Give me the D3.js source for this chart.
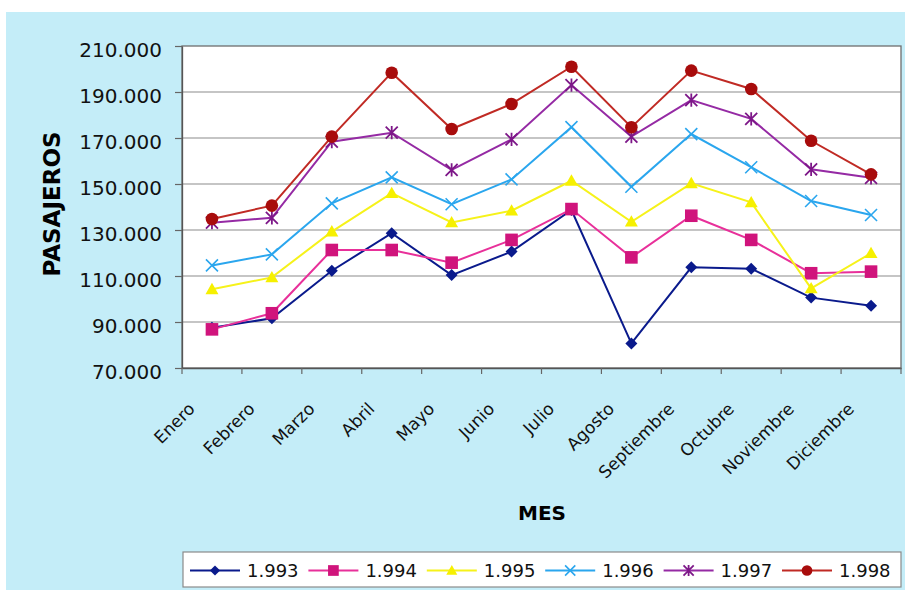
<!DOCTYPE html>
<html>
<head>
<meta charset="utf-8">
<script src="https://cdn.jsdelivr.net/npm/d3@7"></script>
<style>
  html, body { margin: 0; padding: 0; background: #ffffff; }
  svg { display: block; font-family: "DejaVu Sans", Verdana, sans-serif; }
</style>
</head>
<body>
<svg id="chart" width="905" height="590"></svg>
<script>
// ---- data ----
const months = ["Enero","Febrero","Marzo","Abril","Mayo","Junio","Julio","Agosto","Septiembre","Octubre","Noviembre","Diciembre"];
const seriesNames = ["1.993","1.994","1.995","1.996","1.997","1.998"];
const v1993 = [87500, 91600, 112300, 128600, 110400, 120600, 138700, 80700, 113800, 113200, 100600, 97100];
const v1994 = [86800, 93800, 121300, 121300, 115800, 125700, 139100, 118100, 136200, 125700, 111200, 111900];
const v1995 = [104200, 109400, 129300, 146000, 133300, 138400, 151400, 133600, 150300, 142000, 104600, 119900];
const v1996 = [114600, 119400, 141600, 152900, 141200, 152000, 174700, 148800, 171700, 157300, 142600, 136500];
const v1997 = [133200, 135300, 168400, 172300, 156100, 169400, 193000, 170600, 186500, 178300, 156400, 152700];
const v1998 = [134800, 140600, 170600, 198400, 173900, 184800, 201000, 174700, 199300, 191300, 168800, 154200];
const yTicks = [70000, 90000, 110000, 130000, 150000, 170000, 190000, 210000];
const yTitle = "PASAJEROS";
const xTitle = "MES";

(function () {
const seriesValues = [v1993, v1994, v1995, v1996, v1997, v1998];
const styles = [
  {line: "#0a1a8c", fill: "#0a1a8c", marker: "diamond"},
  {line: "#e8309a", fill: "#d0147c", marker: "square"},
  {line: "#f6f21a", fill: "#f6f000", marker: "triangle"},
  {line: "#2aa6ee", fill: "#2aa6ee", marker: "x"},
  {line: "#952aa4", fill: "#7d1788", marker: "star"},
  {line: "#c02a24", fill: "#a80c0c", marker: "circle"}
];

const svg = d3.select("#chart");

// background
svg.append("rect").attr("x", 6).attr("y", 12).attr("width", 899).attr("height", 578).attr("fill", "#c4edf8");

const pLeft = 182, pRight = 901, pTop = 46, pBottom = 368;
const x = d3.scaleBand().domain(months).range([pLeft, pRight]).paddingInner(0).paddingOuter(0);
const y = d3.scaleLinear().domain([70000, 210000]).range([pBottom, pTop]);

// plot area
svg.append("rect").attr("x", pLeft).attr("y", pTop).attr("width", pRight - pLeft).attr("height", pBottom - pTop)
  .attr("fill", "#ffffff").attr("stroke", "#6e6e6e").attr("stroke-width", 1.3);

// gridlines
svg.append("g").selectAll("line").data(yTicks.slice(1, -1)).join("line")
  .attr("x1", pLeft).attr("x2", pRight)
  .attr("y1", d => y(d)).attr("y2", d => y(d))
  .attr("stroke", "#8c8c8c").attr("stroke-width", 1.2);

// y axis
const fmtLocale = d3.formatLocale({decimal: ",", thousands: ".", grouping: [3], currency: ["", ""]});
const fmt = fmtLocale.format(",d");
const yAxis = svg.append("g").attr("transform", `translate(${pLeft},0)`)
  .call(d3.axisLeft(y).tickValues(yTicks).tickFormat(fmt).tickSize(7).tickSizeOuter(0).tickPadding(13));
yAxis.select(".domain").attr("stroke", "#555").attr("stroke-width", 1.3);
yAxis.selectAll(".tick line").attr("stroke", "#666").attr("stroke-width", 1.2);
yAxis.selectAll(".tick text").attr("font-size", 20).attr("fill", "#111").attr("font-family", "DejaVu Sans").attr("dy", "0.5em");

// x axis
const xAxis = svg.append("g").attr("transform", `translate(0,${pBottom})`)
  .call(d3.axisBottom(x).tickSize(0).tickSizeOuter(0).tickPadding(0));
xAxis.select(".domain").attr("stroke", "#555").attr("stroke-width", 1.3);
xAxis.selectAll(".tick text")
  .attr("font-size", 17).attr("fill", "#111").attr("font-family", "DejaVu Sans")
  .attr("text-anchor", "end").attr("dy", 0).attr("y", 0)
  .attr("transform", "translate(-16,42) rotate(-45)");
// boundary ticks
const bounds = months.map(m => x(m)).concat([x.range()[1]]);
svg.append("g").selectAll("line").data(bounds).join("line")
  .attr("x1", d => d).attr("x2", d => d).attr("y1", pBottom).attr("y2", pBottom + 6)
  .attr("stroke", "#666").attr("stroke-width", 1.2);

// titles
svg.append("text").attr("transform", `translate(60,204) rotate(-90)`)
  .attr("text-anchor", "middle").attr("font-size", 23).attr("font-weight", "bold").attr("fill", "#000")
  .text(yTitle);
svg.append("text").attr("x", 542).attr("y", 520)
  .attr("text-anchor", "middle").attr("font-size", 20).attr("font-weight", "bold").attr("fill", "#000")
  .text(xTitle);

// marker drawing
function drawMarker(g, type, cx, cy, st, scale) {
  const s = scale || 1;
  if (type === "diamond") {
    const r = 6 * s;
    g.append("path").attr("d", `M${cx},${cy - r}L${cx + r},${cy}L${cx},${cy + r}L${cx - r},${cy}Z`).attr("fill", st.fill);
  } else if (type === "square") {
    const h = 6.3 * s;
    g.append("rect").attr("x", cx - h).attr("y", cy - h).attr("width", 2 * h).attr("height", 2 * h).attr("fill", st.fill);
  } else if (type === "triangle") {
    const h = 6.5 * s;
    g.append("path").attr("d", `M${cx},${cy - h}L${cx + h},${cy + h * 0.75}L${cx - h},${cy + h * 0.75}Z`).attr("fill", st.fill);
  } else if (type === "x") {
    const h = 6 * s;
    g.append("path").attr("d", `M${cx - h},${cy - h}L${cx + h},${cy + h}M${cx - h},${cy + h}L${cx + h},${cy - h}`)
      .attr("stroke", st.fill).attr("stroke-width", 1.6).attr("fill", "none");
  } else if (type === "star") {
    const h = 6 * s;
    g.append("path").attr("d", `M${cx - h},${cy - h}L${cx + h},${cy + h}M${cx - h},${cy + h}L${cx + h},${cy - h}M${cx},${cy - h * 1.1}L${cx},${cy + h * 1.1}`)
      .attr("stroke", st.fill).attr("stroke-width", 1.8).attr("fill", "none");
  } else if (type === "circle") {
    g.append("circle").attr("cx", cx).attr("cy", cy).attr("r", 6.3 * s).attr("fill", st.fill);
  }
}

const cx = m => x(m) + x.bandwidth() / 2;
const line = d3.line().x(d => cx(d.m)).y(d => y(d.v));

seriesValues.forEach((vals, i) => {
  const st = styles[i];
  const pts = months.map((m, j) => ({m, v: vals[j]}));
  const g = svg.append("g");
  g.append("path").datum(pts).attr("d", line).attr("fill", "none").attr("stroke", st.line).attr("stroke-width", 2);
  pts.forEach(p => drawMarker(g, st.marker, cx(p.m), y(p.v), st));
});

// legend
const lg = svg.append("g");
lg.append("rect").attr("x", 183).attr("y", 552).attr("width", 718).attr("height", 35)
  .attr("fill", "#ffffff").attr("stroke", "#8a8a8a").attr("stroke-width", 1.2);
seriesNames.forEach((name, i) => {
  const x0 = 190 + i * 118.4;
  const st = styles[i];
  const ly = 570.5;
  lg.append("line").attr("x1", x0).attr("x2", x0 + 50).attr("y1", ly).attr("y2", ly).attr("stroke", st.line).attr("stroke-width", 2);
  drawMarker(lg, st.marker, x0 + 25, ly, st, 0.85);
  lg.append("text").attr("x", x0 + 57).attr("y", ly + 6.5).attr("font-size", 18).attr("fill", "#111").text(name);
});
})();
</script>
</body>
</html>
